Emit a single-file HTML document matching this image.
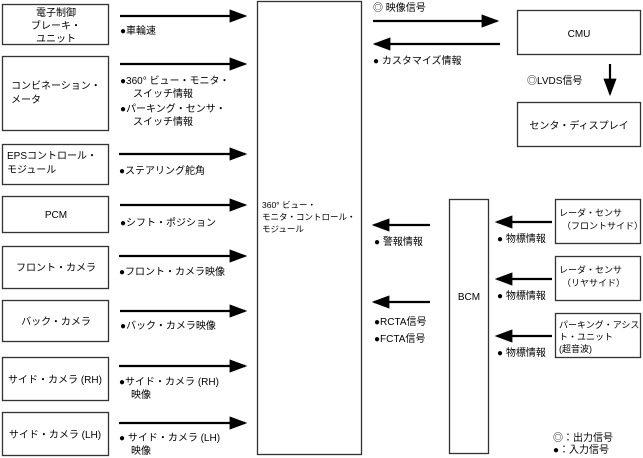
<!DOCTYPE html>
<html><head><meta charset="utf-8"><style>
html,body{margin:0;padding:0;background:#fff;}
svg{display:block;}
text{font-family:"Liberation Sans","Noto Sans CJK JP",sans-serif;font-size:10px;fill:#000;}
.b{fill:#fff;stroke:#333;stroke-width:1.3;}
.l{stroke:#000;stroke-width:2.2;}
</style></head><body>
<svg width="643" height="458" viewBox="0 0 643 458">
<defs>
<marker id="a" markerWidth="8" markerHeight="6" refX="7" refY="3" orient="auto" markerUnits="strokeWidth"><path d="M0,0 L8,3 L0,6z" fill="#000"/></marker>
</defs>
<!-- left boxes -->
<rect class="b" x="2.5" y="4.5" width="106" height="40"/>
<rect class="b" x="2.5" y="56.5" width="106" height="74"/>
<rect class="b" x="2.5" y="144.5" width="106" height="40"/>
<rect class="b" x="2.5" y="196.5" width="106" height="36"/>
<rect class="b" x="2.5" y="246.5" width="106" height="42"/>
<rect class="b" x="2.5" y="300.5" width="106" height="41"/>
<rect class="b" x="2.5" y="357.5" width="106" height="43"/>
<rect class="b" x="2.5" y="412.5" width="106" height="43"/>
<text x="56" y="16" text-anchor="middle">電子制御</text>
<text x="56" y="29" text-anchor="middle">ブレーキ・</text>
<text x="56" y="42" text-anchor="middle">ユニット</text>
<text x="11" y="89">コンビネーション・</text>
<text x="11" y="103">メータ</text>
<text x="7" y="159">EPSコントロール・</text>
<text x="7" y="173">モジュール</text>
<text x="56" y="218" text-anchor="middle">PCM</text>
<text x="56" y="271" text-anchor="middle">フロント・カメラ</text>
<text x="56" y="325" text-anchor="middle">バック・カメラ</text>
<text x="55" y="383" text-anchor="middle">サイド・カメラ (RH)</text>
<text x="55" y="438" text-anchor="middle">サイド・カメラ (LH)</text>
<!-- left arrows -->
<line class="l" x1="120" y1="16" x2="245" y2="16" marker-end="url(#a)"/>
<line class="l" x1="120" y1="64" x2="245" y2="64" marker-end="url(#a)"/>
<line class="l" x1="119" y1="154" x2="245" y2="154" marker-end="url(#a)"/>
<line class="l" x1="120" y1="205" x2="245" y2="205" marker-end="url(#a)"/>
<line class="l" x1="119" y1="256" x2="245" y2="256" marker-end="url(#a)"/>
<line class="l" x1="120" y1="311" x2="245" y2="311" marker-end="url(#a)"/>
<line class="l" x1="119" y1="366" x2="245" y2="366" marker-end="url(#a)"/>
<line class="l" x1="119" y1="423" x2="245" y2="423" marker-end="url(#a)"/>
<text x="120" y="34">●車輪速</text>
<text x="120" y="84">●360° ビュー・モニタ・</text>
<text x="133" y="97">スイッチ情報</text>
<text x="120" y="112">●パーキング・センサ・</text>
<text x="133" y="125">スイッチ情報</text>
<text x="119" y="174">●ステアリング舵角</text>
<text x="120" y="226">●シフト・ポジション</text>
<text x="119" y="275">●フロント・カメラ映像</text>
<text x="120" y="329">●バック・カメラ映像</text>
<text x="119" y="385">●サイド・カメラ (RH)</text>
<text x="131" y="398">映像</text>
<text x="119" y="441">● サイド・カメラ (LH)</text>
<text x="131" y="454">映像</text>
<!-- center -->
<rect class="b" x="257.5" y="1.5" width="104" height="453"/>
<text x="262" y="208" style="font-size:8.5px">360° ビュー・</text>
<text x="262" y="220" style="font-size:8.5px">モニタ・コントロール・</text>
<text x="262" y="232" style="font-size:8.5px">モジュール</text>
<!-- CMU -->
<text x="373" y="11">◎ 映像信号</text>
<line class="l" x1="373" y1="21" x2="497" y2="21" marker-end="url(#a)"/>
<line class="l" x1="500" y1="44" x2="375" y2="44" marker-end="url(#a)"/>
<text x="373" y="64">● カスタマイズ情報</text>
<rect class="b" x="517.5" y="10.5" width="123" height="44"/>
<text x="579" y="37" text-anchor="middle">CMU</text>
<text x="527" y="84">◎LVDS信号</text>
<line class="l" x1="610" y1="64" x2="610" y2="94" marker-end="url(#a)"/>
<rect class="b" x="517.5" y="102.5" width="123" height="44"/>
<text x="579" y="129" text-anchor="middle">センタ・ディスプレイ</text>
<!-- BCM -->
<rect class="b" x="449.5" y="199.5" width="39" height="254"/>
<text x="469" y="300" text-anchor="middle">BCM</text>
<line class="l" x1="430" y1="225" x2="374" y2="225" marker-end="url(#a)"/>
<text x="374" y="245">● 警報情報</text>
<line class="l" x1="430" y1="302" x2="374" y2="302" marker-end="url(#a)"/>
<text x="374" y="325">●RCTA信号</text>
<text x="374" y="342">●FCTA信号</text>
<rect class="b" x="555.5" y="199.5" width="85" height="44"/>
<rect class="b" x="555.5" y="256.5" width="85" height="44"/>
<rect class="b" x="555.5" y="313.5" width="85" height="44"/>
<text x="559" y="216" style="font-size:9px">レーダ・センサ</text>
<text x="562" y="229" style="font-size:9px">（フロントサイド）</text>
<text x="559" y="273" style="font-size:9px">レーダ・センサ</text>
<text x="562" y="286" style="font-size:9px">（リヤサイド）</text>
<text x="559" y="328" style="font-size:9px">パーキング・アシス</text>
<text x="559" y="340" style="font-size:9px">ト・ユニット</text>
<text x="559" y="352" style="font-size:9px">(超音波)</text>
<line class="l" x1="552" y1="222" x2="497" y2="222" marker-end="url(#a)"/>
<line class="l" x1="552" y1="279" x2="497" y2="279" marker-end="url(#a)"/>
<line class="l" x1="552" y1="336" x2="497" y2="336" marker-end="url(#a)"/>
<text x="497" y="242">● 物標情報</text>
<text x="497" y="299">● 物標情報</text>
<text x="497" y="356">● 物標情報</text>
<text x="553" y="441">◎：出力信号</text>
<text x="553" y="453">●：入力信号</text>
</svg>
</body></html>
